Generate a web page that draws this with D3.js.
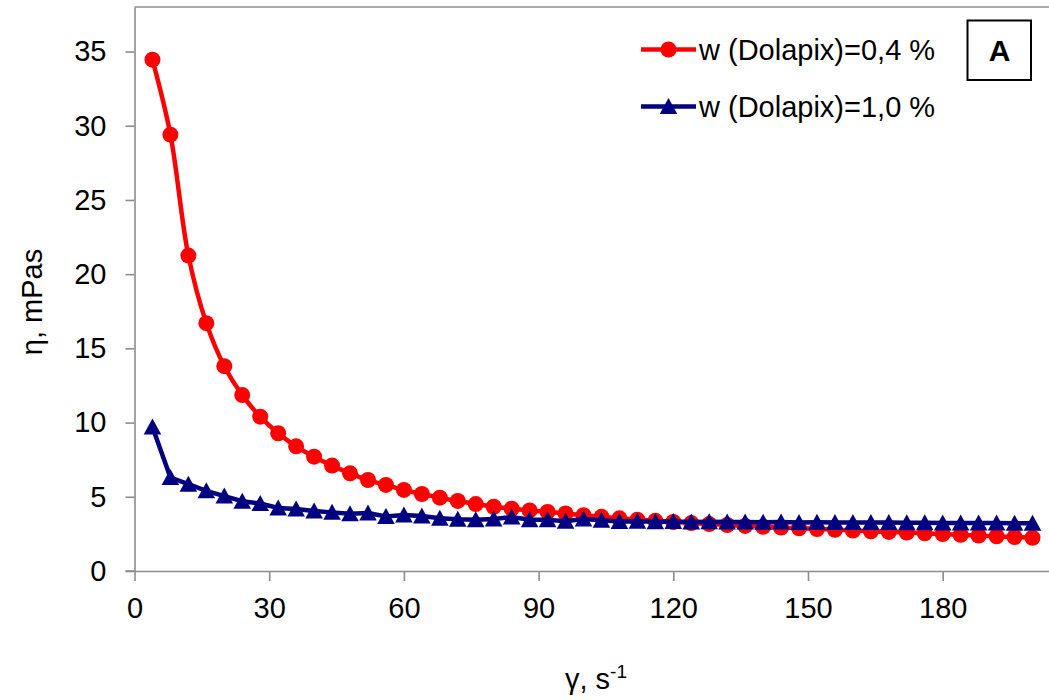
<!DOCTYPE html>
<html lang="en">
<head>
    <meta charset="UTF-8">
    <title>Viscosity vs shear rate</title>
    <script src="https://d3js.org/d3.v7.min.js"></script>
    <style>
        html, body {
            margin: 0;
            padding: 0;
            background: white;
        }
        body {
            overflow: hidden;
        }
        text {
            font-family: Arial, "Liberation Sans", sans-serif;
            font-size: 29px;
            fill: black;
        }
        .axis path, .axis line {
            stroke: #8c8c8c;
            stroke-width: 1.6;
        }
        .axis text {
            font-family: Arial, "Liberation Sans", sans-serif;
            font-size: 29px;
            fill: black;
        }
    </style>
</head>
<body>
    <script>
        // DATA
        const shearRate = [4, 8, 12, 16, 20, 24, 28, 32, 36, 40, 44, 48, 52, 56, 60, 64, 68, 72, 76, 80,
            84, 88, 92, 96, 100, 104, 108, 112, 116, 120, 124, 128, 132, 136, 140, 144, 148, 152, 156, 160,
            164, 168, 172, 176, 180, 184, 188, 192, 196, 200];

        const eta04 = [34.45, 29.4, 21.25, 16.7, 13.8, 11.85, 10.4, 9.28, 8.4, 7.7, 7.1, 6.58, 6.13, 5.8, 5.46, 5.19, 4.94, 4.72, 4.51, 4.33,
            4.2, 4.08, 3.98, 3.88, 3.76, 3.65, 3.55, 3.46, 3.38, 3.3, 3.23, 3.16, 3.1, 3.04, 2.98, 2.93, 2.88, 2.83, 2.78, 2.73,
            2.68, 2.63, 2.59, 2.54, 2.49, 2.44, 2.39, 2.34, 2.29, 2.24];

        const eta10 = [9.7, 6.3, 5.85, 5.4, 5.05, 4.7, 4.55, 4.25, 4.18, 4.05, 3.95, 3.85, 3.9, 3.68, 3.78, 3.7, 3.55, 3.48, 3.46, 3.5,
            3.64, 3.45, 3.46, 3.36, 3.5, 3.42, 3.34, 3.36, 3.32, 3.34, 3.3, 3.32, 3.3, 3.3, 3.28, 3.3, 3.27, 3.28, 3.27, 3.27,
            3.26, 3.26, 3.25, 3.25, 3.24, 3.24, 3.23, 3.23, 3.22, 3.22];

        const xTicks = [0, 30, 60, 90, 120, 150, 180];
        const yTicks = [0, 5, 10, 15, 20, 25, 30, 35];
        const seriesNames = ["w (Dolapix)=0,4 %", "w (Dolapix)=1,0 %"];

        const width = 1049;
        const height = 700;

        const svg = d3.select('body')
            .append('svg')
            .attr('width', width)
            .attr('height', height);

        const margin = { top: 7, left: 134.5, bottom: 129 };

        const x = d3.scaleLinear()
            .domain([0, 204])
            .range([margin.left, margin.left + 204 * 4.49]);

        const y = d3.scaleLinear()
            .domain([0, 38])
            .range([height - margin.bottom, margin.top]);

        // top border of the plot area
        svg.append('line')
            .attr('x1', x(0)).attr('x2', width)
            .attr('y1', y(38)).attr('y2', y(38))
            .attr('stroke', '#8c8c8c')
            .attr('stroke-width', 1.6);

        // AXES
        svg.append('g')
            .attr('class', 'axis')
            .attr('transform', `translate(0,${y(0)})`)
            .call(d3.axisBottom(x).tickValues(xTicks).tickSizeInner(10).tickSizeOuter(0).tickPadding(16));

        svg.append('g')
            .attr('class', 'axis')
            .attr('transform', `translate(${x(0)},0)`)
            .call(d3.axisLeft(y).tickValues(yTicks).tickSizeInner(9).tickSizeOuter(0).tickPadding(19));

        // extend x axis line a little left of the y axis, like the original
        svg.append('line')
            .attr('x1', x(0) - 9).attr('x2', x(0))
            .attr('y1', y(0)).attr('y2', y(0))
            .attr('stroke', '#8c8c8c')
            .attr('stroke-width', 1.6);

        const red = "#ff0000";
        const navy = "#000080";
        const triangle = "M0,-8.5L8.8,7.5L-8.8,7.5Z";

        const pts04 = shearRate.map((s, i) => ({ x: x(s), y: y(eta04[i]) }));
        const pts10 = shearRate.map((s, i) => ({ x: x(s), y: y(eta10[i]) }));

        // SERIES 0,4 %  (smoothed line)
        svg.append('path')
            .datum(pts04)
            .attr('fill', 'none')
            .attr('stroke', red)
            .attr('stroke-width', 4.5)
            .attr('d', d3.line().x(d => d.x).y(d => d.y).curve(d3.curveCatmullRom.alpha(0.5)));

        svg.append('g')
            .selectAll('circle')
            .data(pts04)
            .join('circle')
            .attr('cx', d => d.x)
            .attr('cy', d => d.y)
            .attr('r', 8)
            .attr('fill', red);

        // SERIES 1,0 %
        svg.append('path')
            .datum(pts10)
            .attr('fill', 'none')
            .attr('stroke', navy)
            .attr('stroke-width', 4.5)
            .attr('d', d3.line().x(d => d.x).y(d => d.y));

        svg.append('g')
            .selectAll('path')
            .data(pts10)
            .join('path')
            .attr('transform', d => `translate(${d.x},${d.y})`)
            .attr('d', triangle)
            .attr('fill', navy);

        // LEGEND
        const legend = svg.append('g').attr('transform', 'translate(641,0)');

        legend.append('line')
            .attr('x1', 0).attr('x2', 55).attr('y1', 49.5).attr('y2', 49.5)
            .attr('stroke', red).attr('stroke-width', 4.5);
        legend.append('circle')
            .attr('cx', 27.5).attr('cy', 49.5).attr('r', 8).attr('fill', red);
        legend.append('text')
            .attr('x', 58).attr('y', 59.5)
            .text(seriesNames[0]);

        legend.append('line')
            .attr('x1', 0).attr('x2', 55).attr('y1', 106.5).attr('y2', 106.5)
            .attr('stroke', navy).attr('stroke-width', 4.5);
        legend.append('path')
            .attr('transform', 'translate(27.5,106.5)')
            .attr('d', triangle)
            .attr('fill', navy);
        legend.append('text')
            .attr('x', 58).attr('y', 116.5)
            .text(seriesNames[1]);

        // BOX "A"
        svg.append('rect')
            .attr('x', 967.5).attr('y', 20.5)
            .attr('width', 63.5).attr('height', 59.5)
            .attr('fill', 'white')
            .attr('stroke', 'black')
            .attr('stroke-width', 2);

        svg.append('text')
            .attr('x', 999.5).attr('y', 60.5)
            .attr('text-anchor', 'middle')
            .style('font-weight', 'bold')
            .style('font-size', '30px')
            .text('A');

        // AXIS TITLES
        svg.append('text')
            .attr('transform', 'translate(42,302) rotate(-90)')
            .attr('text-anchor', 'middle')
            .text('η, mPas');

        const xTitle = svg.append('text')
            .attr('x', 596).attr('y', 689)
            .attr('text-anchor', 'middle');
        xTitle.append('tspan').text('γ, s');
        xTitle.append('tspan')
            .attr('dy', -11)
            .style('font-size', '19px')
            .text('-1');
    </script>
</body>
</html>
